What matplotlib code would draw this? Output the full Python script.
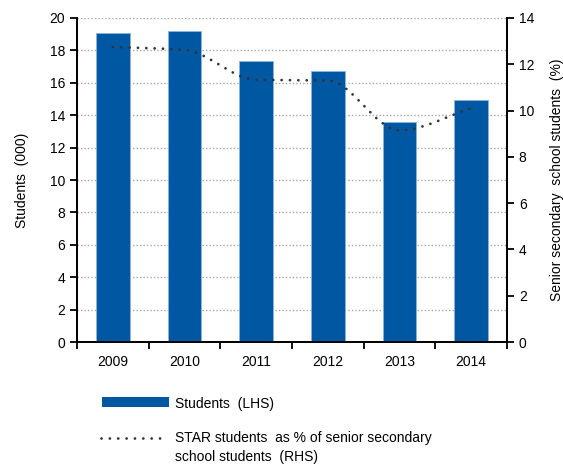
import numpy as np
import matplotlib
matplotlib.use("Agg")
from matplotlib import pyplot as plt
from matplotlib.lines import Line2D
from matplotlib.patches import Rectangle

years = ["2009", "2010", "2011", "2012", "2013", "2014"]
students = [19.05, 19.18, 17.36, 16.75, 13.6, 14.95]        # thousands (LHS)
star_pct = [12.75, 12.62, 11.33, 11.3, 9.15, 10.1]          # % of senior secondary (RHS)

BLUE = "#0058a3"


def smooth(x, y, n=40):
  # monotone cubic (fritsch-carlson) through the points
  x = np.asarray(x, float)
  y = np.asarray(y, float)
  h = np.diff(x)
  d = np.diff(y) / h
  m = np.zeros_like(y)
  m[0], m[-1] = d[0], d[-1]
  for i in range(1, len(y) - 1):
    if d[i - 1] * d[i] > 0:
      w1 = 2 * h[i] + h[i - 1]
      w2 = h[i] + 2 * h[i - 1]
      m[i] = (w1 + w2) / (w1 / d[i - 1] + w2 / d[i])
  xs, ys = [], []
  t = np.linspace(0, 1, n, endpoint=False)
  for i in range(len(x) - 1):
    h00 = 2 * t ** 3 - 3 * t ** 2 + 1
    h10 = t ** 3 - 2 * t ** 2 + t
    h01 = -2 * t ** 3 + 3 * t ** 2
    h11 = t ** 3 - t ** 2
    xs.extend(x[i] + t * h[i])
    ys.extend(h00 * y[i] + h10 * h[i] * m[i] + h01 * y[i + 1] + h11 * h[i] * m[i + 1])
  xs.append(x[-1])
  ys.append(y[-1])
  return np.array(xs), np.array(ys)


plt.rcParams.update({"font.family": ["Liberation Sans", "DejaVu Sans"], "font.size": 10})

fig = plt.figure(figsize=(5.63, 4.65), dpi=100)
ax = fig.add_axes([0.1368, 0.2645, 0.7637, 0.6968])
ax2 = ax.twinx()

x = np.arange(len(years))
ax.bar(x, students, width=0.47, color=BLUE, edgecolor="#8fb3d9", linewidth=0.6, zorder=3)

ax.set_xlim(-0.5, len(years) - 0.5)
ax.set_ylim(0, 20)
ax.set_yticks(np.arange(0, 21, 2))
ax.set_xticks(x)
ax.set_xticklabels(years)
ax.set_xticks(np.arange(-0.5, len(years), 1), minor=True)
ax.tick_params(axis="x", which="major", length=0, pad=9)
ax.tick_params(axis="x", which="minor", length=5, width=1.3, direction="out")
ax.tick_params(axis="y", length=5, width=1.3, direction="out")
ax.set_ylabel("Students  (000)", labelpad=15)
for v in range(2, 21, 2):
  ax.axhline(v, color="#a6a6a6", lw=1.0, ls=(0, (1, 1.5)), zorder=1)

lx, ly = smooth(x, star_pct)
ax2.plot(lx, ly, color="#333333", lw=2.0, ls=(0, (0.01, 3.0)), dash_capstyle="round", zorder=4)
ax2.set_ylim(0, 14)
ax2.set_yticks(np.arange(0, 15, 2))
ax2.tick_params(axis="y", length=5, width=1.3, direction="out")
ax2.set_ylabel("Senior secondary  school students  (%)", labelpad=11)

for a in (ax, ax2):
  a.spines["top"].set_visible(False)
  for s in ("left", "right", "bottom"):
    a.spines[s].set_linewidth(1.3)

# legend below the plot, handle level with the first text line
W, H = 563, 465
fig.add_artist(Rectangle((102 / W, 1 - 407 / H), 67 / W, 10 / H, transform=fig.transFigure,
                         facecolor=BLUE, edgecolor="none"))
fig.text(175 / W, 1 - 404 / H, "Students  (LHS)", va="center", ha="left")
fig.add_artist(Line2D([101 / W, 163 / W], [1 - 438 / H, 1 - 438 / H], transform=fig.transFigure,
                      color="#333333", lw=2.0, ls=(0, (0.01, 3.0)), dash_capstyle="round"))
fig.text(175 / W, 1 - 438 / H, "STAR students  as % of senior secondary", va="center", ha="left")
fig.text(175 / W, 1 - 457 / H, "school students  (RHS)", va="center", ha="left")

fig.savefig("out.png", dpi=100)
